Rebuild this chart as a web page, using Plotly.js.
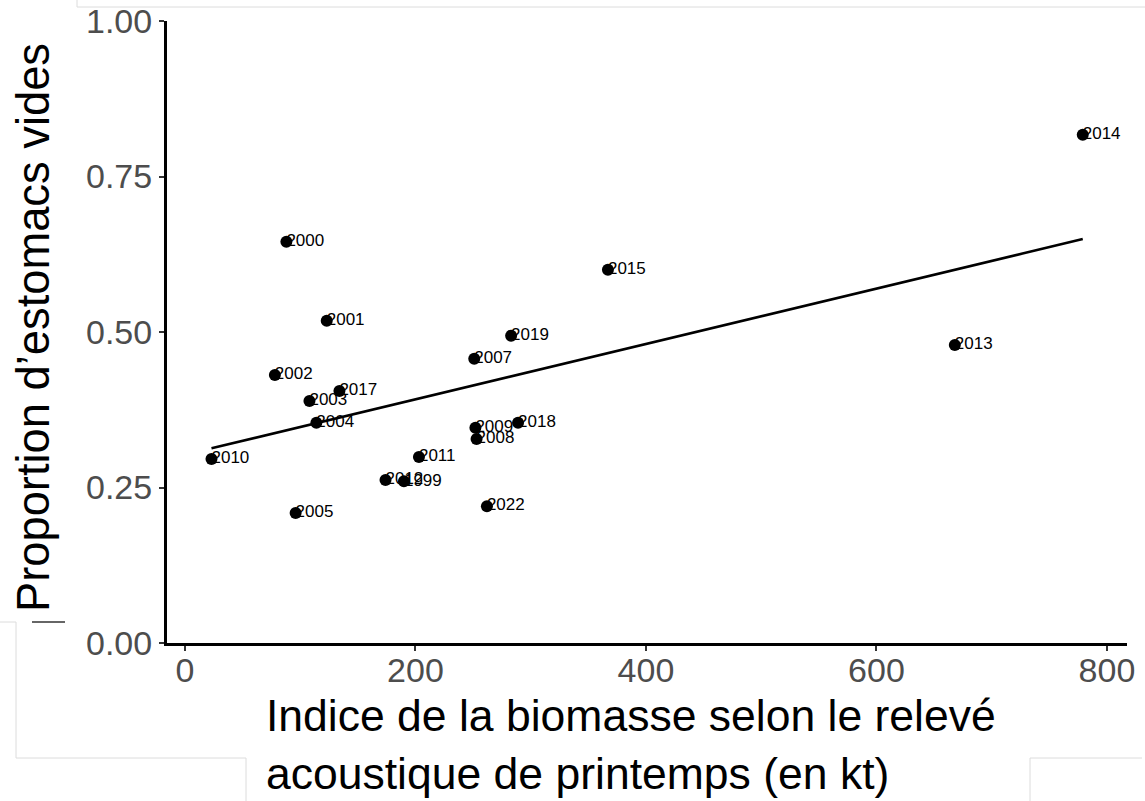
<!DOCTYPE html>
<html>
<head>
<meta charset="utf-8">
<script src="https://cdn.plot.ly/plotly-3.0.1.min.js"></script>
<style>
  html, body { margin: 0; padding: 0; background: #ffffff; }
  #chart { width: 1145px; height: 801px; }
</style>
</head>
<body>
<div id="chart"></div>
<script>
// ---- data ----
const years = ["2014","2013","2015","2019","2007","2000","2001","2002","2017","2003",
               "2004","2010","2009","2008","2018","2011","2012","1999","2005","2022"];
const biomass = [779, 668, 367, 283, 251, 88, 123, 78, 134, 108,
                 114, 23, 252, 253, 289, 203, 174, 190, 96, 262];
const emptyProp = [0.817, 0.479, 0.600, 0.494, 0.457, 0.645, 0.518, 0.431, 0.405, 0.389,
                   0.354, 0.296, 0.346, 0.328, 0.354, 0.299, 0.262, 0.260, 0.209, 0.220];
const yTickVals = [0, 0.25, 0.5, 0.75, 1];
const xTickVals = [0, 200, 400, 600, 800];
const xTitleLines = ["Indice de la biomasse selon le relevé", "acoustique de printemps (en kt)"];
const yTitle = "Proportion d’estomacs vides";

// ---- least-squares fit (geom_smooth(method = "lm")) ----
const n = biomass.length;
const mx = biomass.reduce((a, b) => a + b, 0) / n;
const my = emptyProp.reduce((a, b) => a + b, 0) / n;
let sxy = 0, sxx = 0;
for (let i = 0; i < n; i++) {
  sxy += (biomass[i] - mx) * (emptyProp[i] - my);
  sxx += (biomass[i] - mx) * (biomass[i] - mx);
}
const slope = sxy / sxx;
const intercept = my - slope * mx;
const xmin = Math.min(...biomass), xmax = Math.max(...biomass);
const fitX = [xmin, xmax];
const fitY = fitX.map(v => intercept + slope * v);

const FONT = "Liberation Sans, Arial, Helvetica, sans-serif";

// layout geometry
const W = 1145, H = 801;
const ML = 167, MR = 18, MT = 21, MB = 158;
const PW = W - ML - MR, PH = H - MT - MB;
const px2x = p => (p - ML) / PW;
const py2y = p => (H - MB - p) / PH;

function seg(x0, y0, x1, y1, color, width) {
  return { type: "line", xref: "paper", yref: "paper",
           x0: px2x(x0), y0: py2y(y0), x1: px2x(x1), y1: py2y(y1),
           line: { color: color, width: width }, layer: "above" };
}
const faint = "#dcdcdc";
const shapes = [
  seg(77, 7, 1145, 7, faint, 1),
  seg(77, 0, 77, 7, faint, 1),
  seg(0, 622, 16, 622, faint, 1),
  seg(16, 622, 16, 758, faint, 1),
  seg(16, 758, 246, 758, faint, 1),
  seg(246, 758, 246, 801, faint, 1),
  seg(1030, 758, 1030, 801, faint, 1),
  seg(1030, 758, 1142, 758, faint, 1),
  seg(32, 622, 65, 622, "#333333", 1.5)
];

const traces = [
  {
    type: "scatter", mode: "text",
    x: biomass, y: emptyProp, text: years,
    textposition: "middle right",
    textfont: { family: FONT, size: 17, color: "#000000" },
    hoverinfo: "skip", showlegend: false, cliponaxis: false
  },
  {
    type: "scatter", mode: "lines",
    x: fitX, y: fitY,
    line: { color: "#000000", width: 2.6 },
    hoverinfo: "skip", showlegend: false
  },
  {
    type: "scatter", mode: "markers",
    x: biomass, y: emptyProp,
    marker: { color: "#000000", size: 12 },
    showlegend: false, cliponaxis: false
  }
];

const layout = {
  width: W, height: H,
  margin: { l: ML, r: MR, t: MT, b: MB, pad: 0 },
  paper_bgcolor: "#ffffff", plot_bgcolor: "#ffffff",
  font: { family: FONT, color: "#000000" },
  showlegend: false,
  xaxis: {
    range: [-15.6, 817.4],
    tickvals: xTickVals, ticktext: xTickVals.map(String),
    showgrid: false, zeroline: false,
    showline: true, linecolor: "#000000", linewidth: 3,
    ticks: "outside", ticklen: 5, tickwidth: 2, tickcolor: "#333333",
    ticklabelstandoff: -10,
    tickfont: { family: FONT, size: 34, color: "#4D4D4D" }
  },
  yaxis: {
    range: [0, 1],
    tickvals: yTickVals, ticktext: yTickVals.map(v => v.toFixed(2)),
    showgrid: false, zeroline: false,
    showline: true, linecolor: "#000000", linewidth: 3,
    ticks: "outside", ticklen: 5, tickwidth: 2, tickcolor: "#333333",
    tickfont: { family: FONT, size: 34, color: "#4D4D4D" }
  },
  shapes: shapes,
  annotations: [
    {
      xref: "paper", yref: "paper",
      x: px2x(264), y: py2y(689),
      xanchor: "left", yanchor: "top", align: "left",
      showarrow: false,
      text: xTitleLines.join("<br>"),
      font: { family: FONT, size: 44.5, color: "#000000" }
    },
    {
      xref: "paper", yref: "paper",
      x: px2x(34), y: py2y(328),
      xanchor: "center", yanchor: "middle",
      textangle: -90, showarrow: false,
      text: yTitle,
      font: { family: FONT, size: 45.3, color: "#000000" }
    }
  ]
};

Plotly.newPlot("chart", traces, layout, { displayModeBar: false, staticPlot: true });
</script>
</body>
</html>
